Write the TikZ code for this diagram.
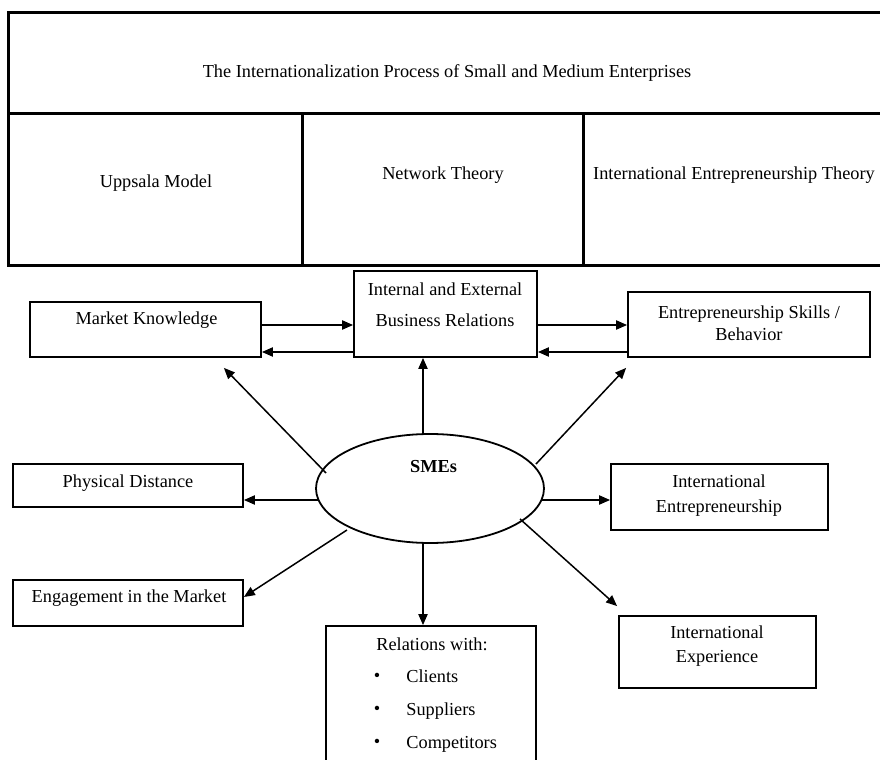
\documentclass[tikz,border=0pt]{standalone}
\usepackage{fontspec}
\setmainfont{Liberation Serif}
\usetikzlibrary{arrows.meta,calc,fit,shapes.geometric}
\newcommand\fsz{\fontsize{9.15}{11}\selectfont}
\begin{document}
\begin{tikzpicture}[x=0.5pt,y=-0.5pt,
  tbl/.style={line width=1.5pt},
  box/.style={draw, line width=0.9pt, inner sep=0pt},
  txt/.style={inner sep=0pt, font=\fsz, align=center},
  arr/.style={line width=0.75pt, -{Triangle[length=5.5pt,width=4.6pt]}}]
\useasboundingbox (0,0) rectangle (880,760);
\clip (0,0) rectangle (880,760);
\fill[white] (0,0) rectangle (880,760);

% ---- top table ----
\draw[tbl] (8,12) rectangle (892,265);
\draw[tbl] (8,113) -- (892,113);
\draw[tbl] (302,113) -- (302,265);
\draw[tbl] (583,113) -- (583,265);
\node[txt] (title) at (447,73) {The Internationalization Process of Small and Medium Enterprises};
\node[txt] (upp) at (156,183) {Uppsala Model};
\node[txt] (net) at (443,175) {Network Theory};
\node[txt] (iet) at (734,175) {International Entrepreneurship Theory};

% ---- boxes ----
\node[box, fit={(30,302) (261,357)}] (mk) {};
\node[txt] (mkt) at (146.5,320) {Market Knowledge};

\node[box, fit={(354,271) (537,357)}] (iebr) {};
\node[txt, font={\fontsize{9.15}{15.5}\selectfont}] (iebrt) at (445,304.5) {Internal and External\\Business Relations};

\node[box, fit={(628,292) (870,357)}] (esb) {};
\node[txt, font={\fontsize{9.15}{11}\selectfont}] (esbt) at (749,323) {Entrepreneurship Skills /\\Behavior};

\node[box, fit={(13,464) (243,507)}] (pd) {};
\node[txt] (pdt) at (128,483) {Physical Distance};

\node[box, fit={(13,580) (243,626)}] (eng) {};
\node[txt] (engt) at (129,598) {Engagement in the Market};

\node[box, fit={(611,464) (828,530)}] (ie) {};
\node[txt, font={\fontsize{9.15}{12.5}\selectfont}] (iet2) at (719,495.5) {International\\Entrepreneurship};

\node[box, fit={(619,616) (816,688)}] (iex) {};
\node[txt, font={\fontsize{9.15}{12}\selectfont}] (iext) at (717,646) {International\\Experience};

\node[box, fit={(326,626) (536,790)}] (rel) {};
\node[txt] (relt) at (432,644) {Relations with:};
\node[txt] (b1) at (377,677) {•};
\node[txt] (b2) at (377,710) {•};
\node[txt] (b3) at (377,743) {•};
\node[txt, anchor=west, text height=1.4ex, text depth=0.3ex] (r1) at (406,677) {Clients};
\node[txt, anchor=west, text height=1.4ex, text depth=0.3ex] (r2) at (406,710) {Suppliers};
\node[txt, anchor=west, text height=1.4ex, text depth=0.3ex] (r3) at (406,743) {Competitors};

% ---- central ellipse ----
\node[draw, ellipse, line width=0.9pt, minimum width=114pt, minimum height=54.5pt, inner sep=0pt] (sme) at (430,488.5) {};
\node[txt, font=\fsz\bfseries] (smet) at (433.5,467) {SMEs};

% ---- connectors ----
\draw[arr] (mk.east |- 0,325) -- (iebr.west |- 0,325);
\draw[arr] (iebr.west |- 0,352) -- (mk.east |- 0,352);
\draw[arr] (iebr.east |- 0,325) -- (esb.west |- 0,325);
\draw[arr] (esb.west |- 0,352) -- (iebr.east |- 0,352);

\coordinate (sN) at ($(sme.center)+(-7,-54.5)$);
\coordinate (sS) at ($(sme.center)+(-7,54.5)$);
\coordinate (sNW) at ($(sme.center)+(-104,-15.5)$);
\coordinate (sNE) at ($(sme.center)+(106,-24.5)$);
\coordinate (sW) at ($(sme.center)+(-112,11.5)$);
\coordinate (sE) at ($(sme.center)+(112,11.5)$);
\coordinate (sSW) at ($(sme.center)+(-83,41.5)$);
\coordinate (sSE) at ($(sme.center)+(90,30.5)$);
\coordinate (tMK) at ($(mk.south east)+(-38,10)$);
\coordinate (tESB) at ($(esb.south west)+(-1,10)$);
\coordinate (tENG) at ($(eng.east)+(0,-6)$);
\coordinate (tIEX) at ($(iex.north west)+(-1,-9)$);

\draw[arr] (sN) -- (iebr.south -| sN);
\draw[arr] (sNW) -- (tMK);
\draw[arr] (sNE) -- (tESB);
\draw[arr] (sW) -- (pd.east |- sW);
\draw[arr] (sE) -- (ie.west |- sE);
\draw[arr] (sSW) -- (tENG);
\draw[arr] (sSE) -- (tIEX);
\draw[arr] (sS) -- (rel.north -| sS);
\end{tikzpicture}
\end{document}
